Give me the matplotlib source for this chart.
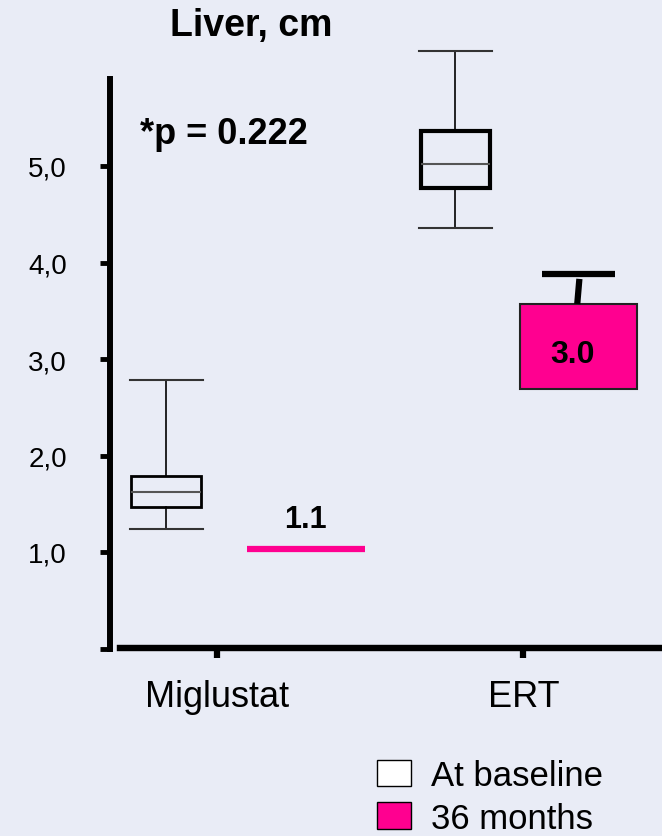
import matplotlib.pyplot as plt
from matplotlib.patches import Patch

plt.rcParams['font.family'] = ['Liberation Sans', 'DejaVu Sans']

groups = ['Miglustat', 'ERT']
# baseline box stats (cm)
base_whislo = [1.24, 4.36]
base_q1 = [1.47, 4.77]
base_med = [1.62, 5.02]
base_q3 = [1.79, 5.36]
base_whishi = [2.78, 6.19]
# 36 months
m36_q1 = [1.03, 2.69]
m36_q3 = [1.03, 3.57]
m36_whishi = [1.03, 3.88]
m36_labels = ['1.1', '3.0']
yticks = [0, 1, 2, 3, 4, 5]
ytick_labels = ['', '1,0', '2,0', '3,0', '4,0', '5,0']

bg = '#e9ecf6'
pink = '#ff0090'

fig = plt.figure(figsize=(6.62, 8.37), dpi=100, facecolor=bg)
ax = fig.add_axes([110/662, (837-649.5)/837, 552/662, 649.5/837])
ax.set_facecolor(bg)
ax.set_xlim(-0.351, 1.453)
ax.set_ylim(0, 649.5/96.5)

base_pos = [-0.167, 0.778]
base_w = [0.23, 0.223]
m36_pos = [0.289, 1.18]
m36_w = [0.385, 0.385]

stats = []
for i in range(2):
    stats.append(dict(whislo=base_whislo[i], q1=base_q1[i], med=base_med[i],
                      q3=base_q3[i], whishi=base_whishi[i], fliers=[]))
for i in range(2):
    lw = 2 if i == 0 else 3
    ax.bxp([stats[i]], positions=[base_pos[i]], widths=base_w[i], showfliers=False,
           patch_artist=True, manage_ticks=False,
           boxprops=dict(facecolor='none', edgecolor='black', linewidth=lw),
           medianprops=dict(color='#555555', linewidth=1.5),
           whiskerprops=dict(color='black', linewidth=1.2),
           capprops=dict(color='#333333', linewidth=1.5), capwidths=0.24)

# miglustat 36 months: single line
ax.hlines(m36_q1[0], m36_pos[0]-m36_w[0]/2, m36_pos[0]+m36_w[0]/2, color=pink, lw=4.5)
ax.text(m36_pos[0], m36_q1[0]+0.31, m36_labels[0], ha='center', va='center',
        fontsize=22, fontweight='bold')

# ERT 36 months: box + upper whisker
ax.bar(m36_pos[1], m36_q3[1]-m36_q1[1], bottom=m36_q1[1], width=m36_w[1],
       color=pink, edgecolor='#222222', linewidth=1.5)
ax.plot([m36_pos[1]+0.003, m36_pos[1]-0.004], [m36_whishi[1]-0.05, m36_q3[1]],
        color='black', lw=4.5, solid_capstyle='butt')
ax.hlines(m36_whishi[1], m36_pos[1]-0.12, m36_pos[1]+0.12, color='black', lw=4.5)
ax.text(m36_pos[1]-0.02, (649.5-355)/96.5, m36_labels[1], ha='center', va='center',
        fontsize=23, fontweight='bold')

for s in ['top', 'right']:
    ax.spines[s].set_visible(False)
ax.spines['left'].set_linewidth(4.3)
ax.spines['left'].set_bounds(0, (649.5-80)/96.5)
ax.spines['bottom'].set_linewidth(4.6)
ax.spines['bottom'].set_bounds(-0.319, 1.453)
ax.spines['bottom'].set_position(('data', 0.01))

ax.set_yticks(yticks)
ax.set_yticklabels(ytick_labels, fontsize=20)
ax.set_xticks([0, 1])
ax.set_xticklabels(groups, fontsize=26)
ax.tick_params(axis='y', length=7, width=3.5, pad=24)
ax.tick_params(axis='x', length=7, width=4.5, pad=16)

fig.text(251/662, 1-26/837, 'Liver, cm', ha='center', va='center',
         fontsize=27, fontweight='bold')
fig.text(140/662, 1-134/837, '*p = 0.222', ha='left', va='center',
         fontsize=26, fontweight='bold')

handles = [Patch(facecolor='white', edgecolor='black', label='At baseline'),
           Patch(facecolor=pink, edgecolor='black', label='36 months')]
fig.legend(handles=handles, loc='lower left', bbox_to_anchor=(374/662, -2/837),
           frameon=False, fontsize=25, handlelength=0.98, handleheight=0.8,
           handletextpad=0.55, labelspacing=0.27, borderpad=0.05, borderaxespad=0.05)

fig.savefig('out.png', dpi=100, facecolor=bg)
